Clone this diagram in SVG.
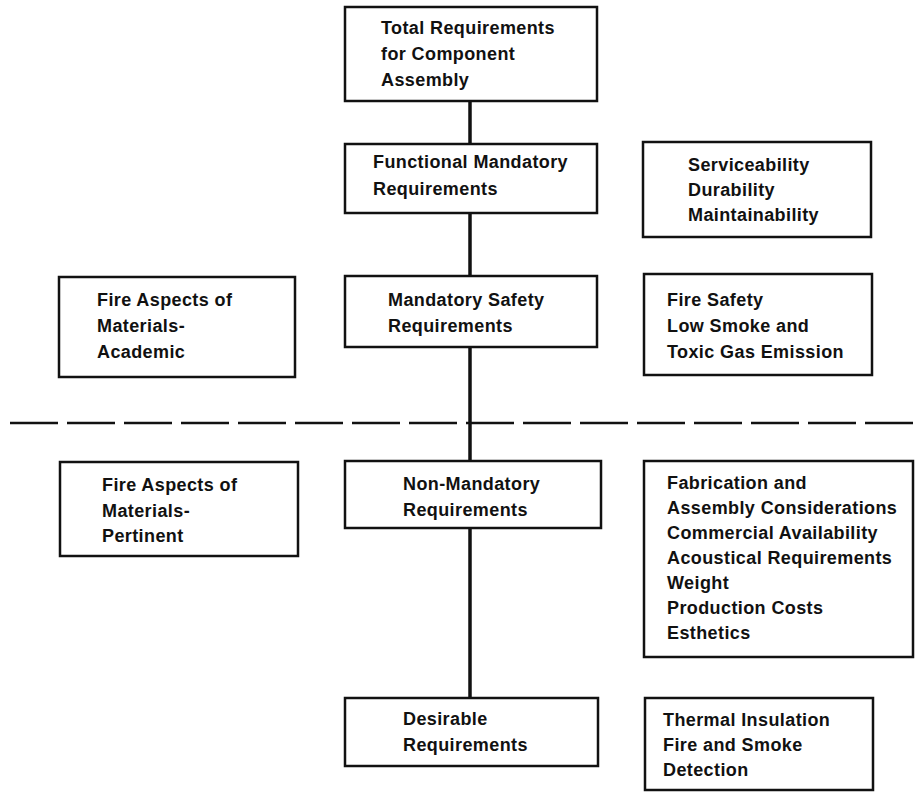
<svg xmlns="http://www.w3.org/2000/svg" width="916" height="793" viewBox="0 0 916 793">
<style>
.box{fill:#fff;stroke:#111;stroke-width:2.5}
.t{font-family:"Liberation Sans",Arial,sans-serif;font-weight:bold;font-size:18px;letter-spacing:0.4px;fill:#111}
.conn{stroke:#111;stroke-width:3.5;fill:none}
.dash{stroke:#111;stroke-width:2.5;stroke-dasharray:48 9;fill:none}
</style>
<rect width="916" height="793" fill="#fff"/>
<g id="connectors">
<line class="conn" x1="470" y1="101" x2="470" y2="144"/>
<line class="conn" x1="470" y1="213" x2="470" y2="276"/>
<line class="conn" x1="470" y1="347" x2="470" y2="461"/>
<line class="conn" x1="470" y1="528" x2="470" y2="698"/>
<line class="dash" x1="10" y1="423" x2="916" y2="423"/>
</g>
<g id="total">
<rect class="box" x="345" y="7" width="252" height="94"/>
<text class="t" x="381" y="34">Total Requirements</text>
<text class="t" x="381" y="60">for Component</text>
<text class="t" x="381" y="86">Assembly</text>
</g>
<g id="functional">
<rect class="box" x="345" y="144" width="252" height="69"/>
<text class="t" x="373" y="168">Functional Mandatory</text>
<text class="t" x="373" y="195">Requirements</text>
</g>
<g id="serviceability">
<rect class="box" x="643" y="142" width="228" height="95"/>
<text class="t" x="688" y="171">Serviceability</text>
<text class="t" x="688" y="196">Durability</text>
<text class="t" x="688" y="221">Maintainability</text>
</g>
<g id="academic">
<rect class="box" x="59" y="277" width="236" height="100"/>
<text class="t" x="97" y="306">Fire Aspects of</text>
<text class="t" x="97" y="332">Materials-</text>
<text class="t" x="97" y="358">Academic</text>
</g>
<g id="mandatory-safety">
<rect class="box" x="345" y="276" width="252" height="71"/>
<text class="t" x="388" y="306">Mandatory Safety</text>
<text class="t" x="388" y="332">Requirements</text>
</g>
<g id="fire-safety">
<rect class="box" x="644" y="274" width="228" height="101"/>
<text class="t" x="667" y="306">Fire Safety</text>
<text class="t" x="667" y="332">Low Smoke and</text>
<text class="t" x="667" y="358">Toxic Gas Emission</text>
</g>
<g id="pertinent">
<rect class="box" x="60" y="462" width="238" height="94"/>
<text class="t" x="102" y="491">Fire Aspects of</text>
<text class="t" x="102" y="517">Materials-</text>
<text class="t" x="102" y="542">Pertinent</text>
</g>
<g id="non-mandatory">
<rect class="box" x="345" y="461" width="256" height="67"/>
<text class="t" x="403" y="490">Non-Mandatory</text>
<text class="t" x="403" y="516">Requirements</text>
</g>
<g id="fabrication">
<rect class="box" x="644" y="461" width="269" height="196"/>
<text class="t" x="667" y="489">Fabrication and</text>
<text class="t" x="667" y="514">Assembly Considerations</text>
<text class="t" x="667" y="539">Commercial Availability</text>
<text class="t" x="667" y="564">Acoustical Requirements</text>
<text class="t" x="667" y="589">Weight</text>
<text class="t" x="667" y="614">Production Costs</text>
<text class="t" x="667" y="639">Esthetics</text>
</g>
<g id="desirable">
<rect class="box" x="345" y="698" width="253" height="68"/>
<text class="t" x="403" y="725">Desirable</text>
<text class="t" x="403" y="751">Requirements</text>
</g>
<g id="thermal">
<rect class="box" x="645" y="698" width="228" height="92"/>
<text class="t" x="663" y="726">Thermal Insulation</text>
<text class="t" x="663" y="751">Fire and Smoke</text>
<text class="t" x="663" y="776">Detection</text>
</g>
</svg>
